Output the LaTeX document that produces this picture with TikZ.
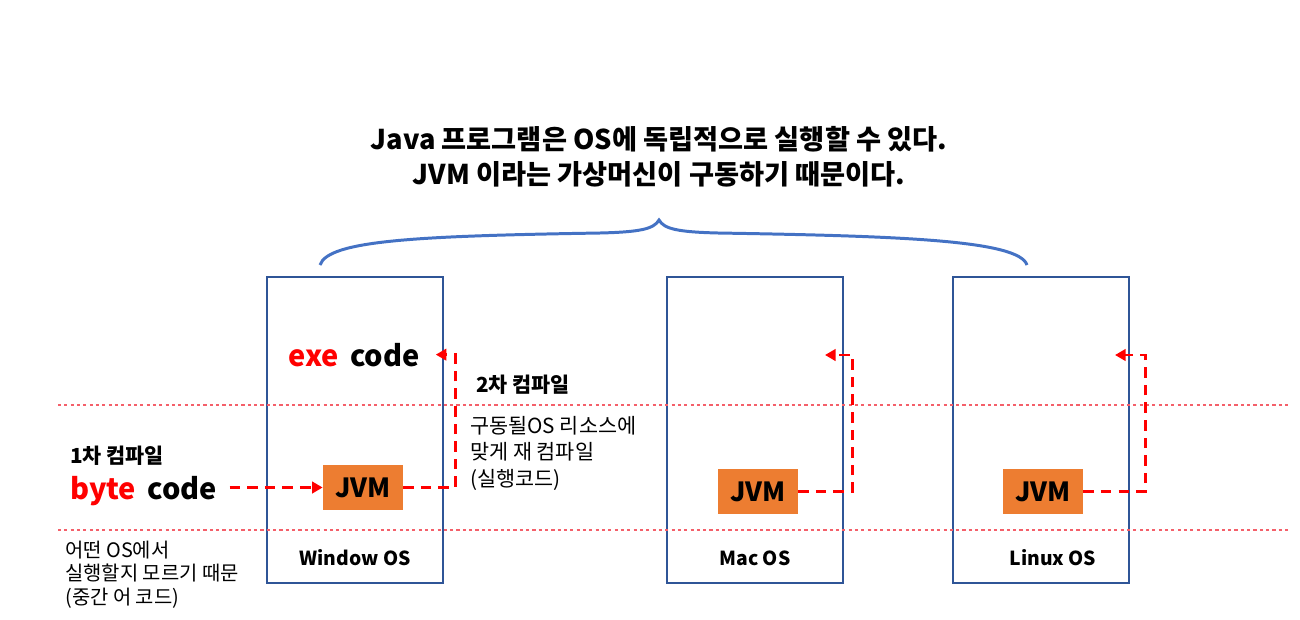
\documentclass[tikz,border=0pt]{standalone}
\usepackage{fontspec}
\setmainfont{Noto Sans CJK KR}
\usetikzlibrary{positioning, arrows.meta}
\definecolor{osstroke}{HTML}{2F5597}
\definecolor{bracestroke}{HTML}{4472C4}
\definecolor{jvmfill}{HTML}{ED7D31}
\definecolor{flowred}{HTML}{FF0000}
\definecolor{layerred}{HTML}{F4606A}

\begin{document}
\begin{tikzpicture}[
          x=0.02cm, y=-0.02cm,
          % 1. OS boxes
          osbox/.style={
              rectangle,
              draw=osstroke,
              line width=1.5pt,
              minimum width=3.52cm,
              minimum height=6.12cm
          },
          % 2. JVM boxes
          jvmbox/.style={rectangle, fill=jvmfill, inner sep=0pt,
              minimum width=1.6cm, minimum height=0.9cm,
              font=\fontsize{15}{18}\selectfont\bfseries},
          % 3. texts
          title/.style={align=center, font=\fontsize{15.5}{20}\selectfont\bfseries},
          codetext/.style={inner sep=0pt, font=\fontsize{16.5}{19}\selectfont\bfseries},
          steplabel/.style={inner sep=0pt, font=\fontsize{11.8}{13}\selectfont\bfseries},
          oslabel/.style={font=\fontsize{11}{13}\selectfont\bfseries},
          note/.style={inner sep=0pt, align=left},
          % 4. lines
          flow/.style={draw=flowred, line width=1.5pt, dash pattern=on 6pt off 4pt,
              -{Triangle[length=6pt, width=6.5pt]}},
          layer/.style={draw=layerred, line width=0.6pt, dash pattern=on 1.8pt off 1.8pt},
          brace/.style={draw=bracestroke, line width=1.7pt}
      ]

      \useasboundingbox (0,0) rectangle (1300,619);

      % === TITLE AND BRACE ===
      \node[title] (title) at (659,157) {Java 프로그램은 OS에 독립적으로 실행할 수 있다.\\JVM 이라는 가상머신이 구동하기 때문이다.};

      \coordinate (braceL) at (320,265);
      \coordinate (braceTip) at (659,220);
      \coordinate (braceR) at (1027,265);
      \draw[brace] (braceL) .. controls (328,240) and (420,236) .. (600,233)
                   .. controls (640,232) and (654,229) .. (braceTip)
                   .. controls (664,229) and (678,232) .. (718,233)
                   .. controls (898,236) and (1019,240) .. (braceR);

      % === OS BOXES ===
      \node[osbox] (win) at (355,430) {};
      \node[osbox] (mac) at (755,430) {};
      \node[osbox] (linux) at (1041,430) {};

      \node[oslabel] (winlabel) at (355,558) {Window OS};
      \node[oslabel] (maclabel) at (755,558) {Mac OS};
      \node[oslabel] (linuxlabel) at (1053,558) {Linux OS};

      % === LAYER LINES ===
      \coordinate (upperL) at (58,405);
      \coordinate (upperR) at (1290,405);
      \coordinate (lowerL) at (58,530);
      \coordinate (lowerR) at (1290,530);
      \draw[layer] (upperL) -- (upperR);
      \draw[layer] (lowerL) -- (lowerR);

      % === JVMs ===
      \node[jvmbox] (jvm1) at (363,487.5) {JVM};
      \node[jvmbox] (jvm2) at (758,491.5) {JVM};
      \node[jvmbox] (jvm3) at (1043,491.5) {JVM};

      % === CODES AND NOTES ===
      \node[codetext, anchor=base west] (byte) at (70,499) {\textcolor{flowred}{byte}\, code};
      \node[codetext, anchor=base west] (exe) at (288,366) {\textcolor{flowred}{exe}\, code};

      \node[steplabel, anchor=base west] (first) at (70,463) {1차 컴파일};
      \node[steplabel, anchor=base west] (second) at (476,392) {2차 컴파일};

      \node[note, anchor=north west, font=\fontsize{11.8}{15}\selectfont] (recompile) at (470,416) {구동될OS 리소스에\\맞게 재 컴파일\\(실행코드)};
      \node[note, anchor=north west, font=\fontsize{11.3}{13.2}\selectfont] (middle) at (65,541) {어떤 OS에서\\실행할지 모르기 때문\\(중간 어 코드)};

      % === FLOWS ===
      \coordinate (macIn) at (825,355);
      \coordinate (linuxIn) at (1115,355);

      \draw[flow] ([xshift=7pt]byte.east |- jvm1) -- (jvm1.west);
      \draw[flow] (jvm1.east) -- ++(52,0) |- ([xshift=9pt]exe.east);
      \draw[flow] (jvm2.east) -- ++(54,0) |- (macIn);
      \draw[flow] (jvm3.east) -- ++(62,0) |- (linuxIn);

      \end{tikzpicture}
\end{document}
